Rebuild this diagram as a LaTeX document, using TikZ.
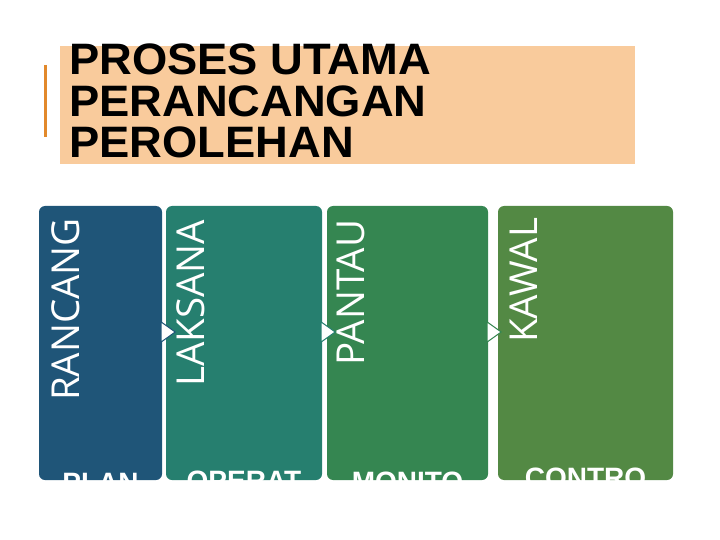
\documentclass[tikz,border=0pt]{standalone}
\usepackage{fontspec}
\setmainfont{Liberation Sans}
\newfontfamily\opensans{Open Sans}
\usetikzlibrary{calc,fit}

\definecolor{titlebg}{HTML}{F9CB9C}
\definecolor{titlebar}{HTML}{E2892B}
\definecolor{planblue}{HTML}{1F5578}
\definecolor{operteal}{HTML}{267F6F}
\definecolor{monigreen}{HTML}{358651}
\definecolor{ctrlgreen}{HTML}{538944}

\begin{document}
\begin{tikzpicture}[x=1bp, y=-1bp,
  stage/.style={fill=#1, draw=none, rounded corners=6bp, inner sep=0pt},
  stagefoot/.style={anchor=north, inner sep=0pt, text=white,
    font=\bfseries\fontsize{28bp}{30bp}\selectfont},
  stagename/.style={rotate=90, anchor=north east, inner sep=0pt, text=white,
    font=\opensans\fontsize{38.5bp}{40bp}\selectfont},
  stagearrow/.style={fill=white, draw=#1, line width=1bp}]

  % 画布
  \useasboundingbox (0,0) rectangle (720,540);

  % 标题
  \node[fit={(60,46) (635,164)}, fill=titlebg, inner sep=0pt] (titlebox) {};
  \draw[titlebar, line width=3bp] (45,65) -- (45,137);
  \node[anchor=north west, inner sep=0pt, align=left, xscale=1.03,
    font=\bfseries\fontsize{44bp}{41.5bp}\selectfont] (titletext) at (69,44)
    {PROSES UTAMA\\PERANCANGAN\\PEROLEHAN};

  % 四个阶段
  \node[stage=planblue,  fit={(39,206) (162,480)}]  (b1) {};
  \node[stage=operteal,  fit={(166,206) (322,480)}] (b2) {};
  \node[stage=monigreen, fit={(327,206) (488,480)}] (b3) {};
  \node[stage=ctrlgreen, fit={(498,206) (673,480)}] (b4) {};

  % 底部文字(被框裁掉)
  \foreach \b/\t/\s in {b1/PLAN/7, b2/OPERAT/9, b3/MONITO/8, b4/CONTRO/12}{
    \begin{scope}
      \clip[rounded corners=6bp] (\b.south west) rectangle (\b.north east);
      \node[stagefoot] (f\b) at ([yshift=\s bp]\b.south) {\t};
    \end{scope}
  }

  % 箭头
  \foreach \a/\b/\c in {b1/b2/planblue, b2/b3/operteal, b3/b4/monigreen}
    \filldraw[stagearrow=\c] ($(\a.east)+(-1,-21)$) -- ++(14,10) -- ++(-14,10) -- cycle;

  % 竖排文字
  \node[stagename] (n1) at ([xshift=13bp,yshift=-12bp]b1.north west) {RANCANG};
  \node[stagename] (n2) at ([xshift=11bp,yshift=-14bp]b2.north west) {LAKSANA};
  \node[stagename] (n3) at ([xshift=10bp,yshift=-14bp]b3.north west) {PANTAU};
  \node[stagename] (n4) at ([xshift=12bp,yshift=-12bp]b4.north west) {KAWAL};

\end{tikzpicture}
\end{document}
